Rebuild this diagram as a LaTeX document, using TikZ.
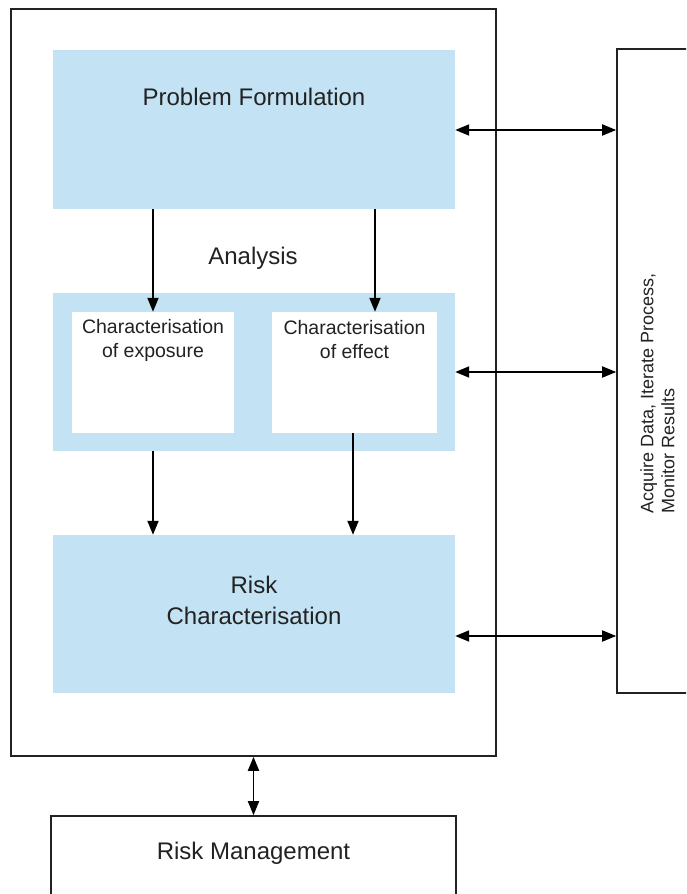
\documentclass[tikz,border=0pt]{standalone}
\usepackage{fontspec}
\setmainfont{Liberation Sans}
\usetikzlibrary{arrows.meta,calc}
\definecolor{lblue}{HTML}{C3E3F5}
\definecolor{ink}{HTML}{222222}
\tikzset{
  bluebox/.style={fill=lblue, draw=none, inner sep=0pt, rectangle},
  whitebox/.style={fill=white, draw=none, inner sep=0pt, rectangle},
  linebox/.style={draw=ink, line width=1.6pt, fill=none, inner sep=0pt, rectangle},
  bigtxt/.style={text=ink, font=\fontsize{24}{31}\selectfont, inner sep=0pt, align=center},
  smalltxt/.style={text=ink, font=\fontsize{19.5}{24}\selectfont, inner sep=0pt, align=center},
  sidetxt/.style={text=ink, font=\fontsize{18}{21}\selectfont, inner sep=0pt, align=left, rotate=90},
  arr/.style={draw=black, line width=1.8pt, -{Triangle[length=14pt,width=11pt]}},
  dbl/.style={draw=black, line width=1.8pt, {Triangle[length=14pt,width=11pt]}-{Triangle[length=14pt,width=11pt]}}
}
\begin{document}
\begin{tikzpicture}[x=1pt,y=-1pt]
\useasboundingbox (0,0) rectangle (686,894);
\clip (0,0) rectangle (686,894);
\fill[white] (0,0) rectangle (686,894);
% outer container
\node[linebox, minimum width=485pt, minimum height=747pt] (outer) at (253.5,382.5) {};
% problem formulation
\node[bluebox, minimum width=402pt, minimum height=159pt] (pf) at (254,129.5) {};
\node[bigtxt] (pft) at (254,97) {Problem Formulation};
% analysis
\node[bigtxt] (ant) at (253,258) {Analysis};
\node[bluebox, minimum width=402pt, minimum height=158pt] (an) at (254,372) {};
\node[whitebox, minimum width=162pt, minimum height=121pt] (ex) at (153,372.5) {};
\node[whitebox, minimum width=165pt, minimum height=121pt] (ef) at (354.5,372.5) {};
\node[smalltxt] (ext) at (153,340) {Characterisation\\of exposure};
\node[smalltxt] (eft) at (354.5,340) {Characterisation\\of effect};
% risk characterisation
\node[bluebox, minimum width=402pt, minimum height=158pt] (rc) at (254,614) {};
\node[bigtxt] (rct) at (254,600.5) {Risk\\Characterisation};
% right box
\node[linebox, minimum width=100pt, minimum height=644pt] (rb) at (667,371) {};
\node[sidetxt] (rbt) at (657.5,393.5) {Acquire Data, Iterate Process,\\Monitor Results};
% risk management
\node[linebox, minimum width=405pt, minimum height=120pt] (rm) at (253.5,876) {};
\node[bigtxt] (rmt) at (253.5,853) {Risk Management};
% arrows
\draw[arr] (pf.south -| ex.north) -- (ex.north);
\coordinate (efin) at ([xshift=20.5pt]ef.north);
\draw[arr] (pf.south -| efin) -- (efin);
\draw[arr] (an.south -| ex.south) -- (rc.north -| ex.south);
\coordinate (efout) at ([xshift=-1.5pt]ef.south);
\draw[arr] (efout) -- (rc.north -| efout);
\coordinate (pfr) at ([yshift=-0.5pt]pf.east);
\draw[dbl] (pfr) -- (pfr -| rb.west);
\draw[dbl] (an.east) -- (an.east -| rb.west);
\coordinate (rcr) at ([yshift=-22pt]rc.east);
\draw[dbl] (rcr) -- (rcr -| rb.west);
\draw[dbl] (outer.south) -- (rm.north);
\end{tikzpicture}
\end{document}
